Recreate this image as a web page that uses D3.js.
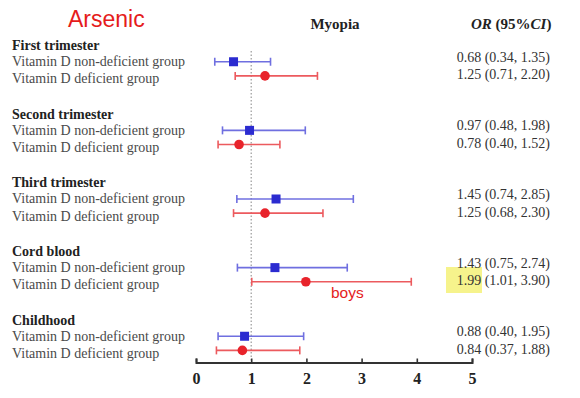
<!DOCTYPE html>
<html>
<head>
<meta charset="utf-8">
<script src="https://cdn.jsdelivr.net/npm/d3@7"></script>
<style>
  body { margin: 0; background: #fff; }
  svg { display: block; }
</style>
</head>
<body>
<div id="plot"></div>
<script>
// data
const groups = ['First trimester', 'Second trimester', 'Third trimester', 'Cord blood', 'Childhood'];
const rowLabels = ['Vitamin D non-deficient group', 'Vitamin D deficient group'];
const orNonDef = [0.68, 0.97, 1.45, 1.43, 0.88];
const lowNonDef = [0.34, 0.48, 0.74, 0.75, 0.40];
const highNonDef = [1.35, 1.98, 2.85, 2.74, 1.95];
const orDef = [1.25, 0.78, 1.25, 1.99, 0.84];
const lowDef = [0.71, 0.40, 0.68, 1.01, 0.37];
const highDef = [2.20, 1.52, 2.30, 3.90, 1.88];
const xTicks = [0, 1, 2, 3, 4, 5];

const W = 580, H = 398;
const svg = d3.select('#plot').append('svg').attr('width', W).attr('height', H);

const x = d3.scaleLinear().domain([0, 5]).range([196, 472]);
// slot index -> y (header = g*5, rows follow)
const y = d3.scaleLinear().domain([0, 20]).range([45, 319.5]);

const BLUE = '#2b2bd0', BLUE_LINE = '#6f6fe0';
const RED = '#e8232b', RED_LINE = '#ec5a5e';
const serif = '"Liberation Serif", "Times New Roman", serif';
const sans = '"Liberation Sans", Arial, sans-serif';

var rows = [];
groups.forEach(function(g, i) {
  rows.push({ g: i, t: 'ND', or: orNonDef[i], lo: lowNonDef[i], hi: highNonDef[i], slot: i * 5 + 1.22 });
  rows.push({ g: i, t: 'D', or: orDef[i], lo: lowDef[i], hi: highDef[i], slot: i * 5 + 2.25 });
});

/* Titles */
svg.append('text').attr('x', 68).attr('y', 27)
  .style('font-family', sans).style('font-size', '23px').attr('fill', '#e51c1c')
  .text('Arsenic');
svg.append('text').attr('x', 335).attr('y', 29).attr('text-anchor', 'middle')
  .style('font-family', serif).style('font-size', '15px').style('font-weight', 'bold')
  .attr('fill', '#222').text('Myopia');
var orHead = svg.append('text').attr('x', 471).attr('y', 29)
  .style('font-family', serif).style('font-size', '15px').style('font-weight', 'bold')
  .attr('fill', '#222');
orHead.append('tspan').style('font-style', 'italic').text('OR');
orHead.append('tspan').text(' (95%');
orHead.append('tspan').style('font-style', 'italic').text('CI');
orHead.append('tspan').text(')');

/* Left labels */
svg.selectAll('text.grp').data(groups).enter().append('text')
  .attr('class', 'grp')
  .attr('x', 12).attr('y', function(d, i) { return y(i * 5) + 5; })
  .style('font-family', serif).style('font-size', '14px').style('font-weight', 'bold')
  .attr('fill', '#222').text(function(d) { return d; });

svg.selectAll('text.row').data(rows).enter().append('text')
  .attr('class', 'row')
  .attr('x', 12).attr('y', function(d) { return y(d.slot) + (d.t === 'D' ? 7.5 : 4.5); })
  .style('font-family', serif).style('font-size', '14px')
  .attr('fill', '#4a4a4a').text(function(d) { return d.t === 'ND' ? rowLabels[0] : rowLabels[1]; });

/* Highlight behind 1.99 */
svg.append('rect').attr('x', 446).attr('y', 267).attr('width', 36).attr('height', 26)
  .attr('fill', '#f6f38c');

/* OR text */
var fmt = d3.format('.2f');
svg.selectAll('text.or').data(rows).enter().append('text')
  .attr('class', 'or')
  .attr('x', 550).attr('text-anchor', 'end')
  .attr('y', function(d) { return y(d.slot) + (d.t === 'ND' ? 0 : 3.5); })
  .style('font-family', serif).style('font-size', '14px')
  .attr('fill', '#333')
  .text(function(d) { return fmt(d.or) + ' (' + fmt(d.lo) + ', ' + fmt(d.hi) + ')'; });

/* Reference line at OR = 1 */
svg.append('line')
  .attr('x1', x(1)).attr('x2', x(1)).attr('y1', 51).attr('y2', 362)
  .attr('stroke', '#999').attr('stroke-width', 1.2).attr('stroke-dasharray', '1.5,2');

/* Error bars */
var bars = svg.selectAll('g.bar').data(rows).enter().append('g')
  .attr('class', 'bar')
  .attr('transform', function(d) { return 'translate(0,' + y(d.slot) + ')'; });
bars.append('line')
  .attr('x1', function(d) { return x(d.lo); }).attr('x2', function(d) { return x(d.hi); })
  .attr('stroke', function(d) { return d.t === 'ND' ? BLUE_LINE : RED_LINE; })
  .attr('stroke-width', 1.6);
['lo', 'hi'].forEach(function(k) {
  bars.append('line')
    .attr('x1', function(d) { return x(d[k]); }).attr('x2', function(d) { return x(d[k]); })
    .attr('y1', -4).attr('y2', 4)
    .attr('stroke', function(d) { return d.t === 'ND' ? BLUE_LINE : RED_LINE; })
    .attr('stroke-width', 1.6);
});
bars.filter(function(d) { return d.t === 'ND'; }).append('rect')
  .attr('x', function(d) { return x(d.or) - 4.5; }).attr('y', -4.5)
  .attr('width', 9).attr('height', 9).attr('fill', BLUE);
bars.filter(function(d) { return d.t === 'D'; }).append('circle')
  .attr('cx', function(d) { return x(d.or); }).attr('r', 4.8).attr('fill', RED);

/* boys label */
svg.append('text').attr('x', 331).attr('y', 298)
  .style('font-family', sans).style('font-size', '15.5px').attr('fill', '#e51c1c')
  .text('boys');

/* Axis */
var axis = svg.append('g').attr('transform', 'translate(0,362.5)')
  .call(d3.axisBottom(x).tickValues(xTicks).tickFormat(d3.format('d'))
    .tickSizeInner(-4).tickSizeOuter(-4).tickPadding(10));
axis.select('.domain').attr('stroke', '#333').attr('stroke-width', 2);
axis.selectAll('.tick line').attr('stroke', '#333').attr('stroke-width', 1.6);
axis.selectAll('.tick text')
  .style('font-family', serif).style('font-size', '16px').style('font-weight', 'bold')
  .attr('fill', '#222');
</script>
</body>
</html>
